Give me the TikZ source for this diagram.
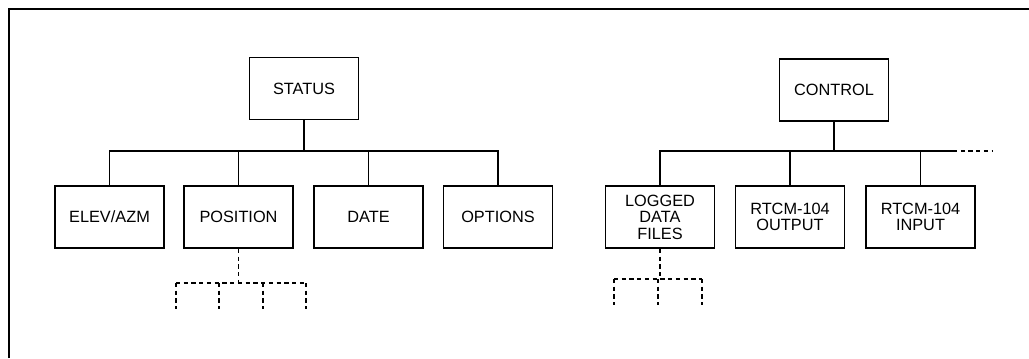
\documentclass[tikz,border=0pt]{standalone}
\usepackage{fontspec}
\setmainfont{Liberation Sans}
\usepackage{tikz}

\begin{document}
\begin{tikzpicture}[
  x=0.025cm,y=-0.025cm,
  font=\fontsize{11.6}{11.8}\selectfont,
  b/.style={draw,line width=1.2pt,minimum width=2.73cm,minimum height=1.55cm,
            align=center,inner sep=1pt},
  l/.style={line width=0.9pt},
  d/.style={line width=0.9pt,dash pattern=on 3pt off 2.5pt}
]
\useasboundingbox (0,0) rectangle (1029,358);
\draw[line width=0.9pt] (9,358) -- (9,9) -- (1029,9);
% status menu
\node[b] (status) at (304,88.5) {STATUS};
\node[b] (elev) at (109.5,217) {ELEV/AZM};
\node[b] (pos) at (238.5,217) {POSITION};
\node[b] (date) at (368.5,217) {DATE};
\node[b] (opts) at (498,217) {OPTIONS};
\coordinate (sbus) at (304,151);
\draw[l] (status) -- (sbus);
\draw[l] (elev.north) |- (sbus) -| (opts.north);
\draw[l] (pos.north) -- (pos.north |- sbus);
\draw[l] (date.north) -- (date.north |- sbus);
\coordinate (pfork) at (241,283);
\draw[d] (pos.south) -- (pos.south |- pfork);
\draw[d] (pfork) ++(-65,0) -- ++(130,0);
\foreach \dx in {-65,-22,22,65}
  \draw[d] (pfork) ++(\dx,0) -- ++(0,26);
% control menu
\node[b] (control) at (834,90) {CONTROL};
\node[b] (logged) at (660,217) {LOGGED\\DATA\\FILES};
\node[b] (rout) at (790,217) {RTCM-104\\OUTPUT};
\node[b] (rin) at (920.5,217) {RTCM-104\\INPUT};
\coordinate (cbus) at (834,151);
\coordinate (cdash) at (953,151);
\coordinate (cend) at (992,151);
\draw[l] (control) -- (cbus);
\draw[l] (logged.north) |- (cdash);
\draw[l] (rout.north) -- (rout.north |- cbus);
\draw[l] (rin.north) -- (rin.north |- cbus);
\draw[d] (cdash) -- (cend);
\coordinate (lfork) at (658,279);
\draw[d] (logged.south) -- (logged.south |- lfork);
\draw[d] (lfork) ++(-44,0) -- ++(88,0);
\foreach \dx in {-44,0,44}
  \draw[d] (lfork) ++(\dx,0) -- ++(0,26);
\end{tikzpicture}
\end{document}
